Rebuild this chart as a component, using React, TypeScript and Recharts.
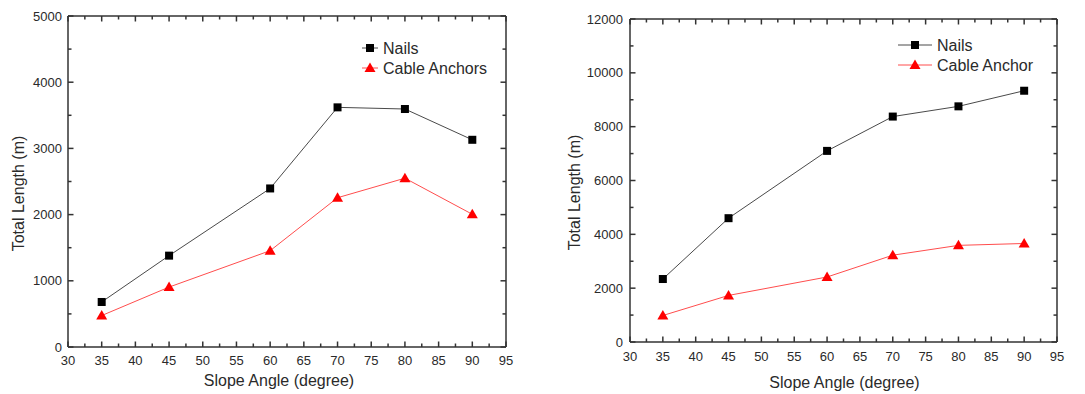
import React from 'react';
import { LineChart, Line, XAxis, YAxis, Legend } from 'recharts';

const angles = [35, 45, 60, 70, 80, 90];
const nailsLeft = [680, 1380, 2395, 3620, 3595, 3130];
const anchorsLeft = [475, 905, 1455, 2255, 2550, 2005];
const nailsRight = [2340, 4600, 7100, 8375, 8755, 9335];
const anchorsRight = [985, 1730, 2415, 3225, 3590, 3660];

const xMajor = [30, 35, 40, 45, 50, 55, 60, 65, 70, 75, 80, 85, 90, 95];
const leftYMajor = [0, 1000, 2000, 3000, 4000, 5000];
const rightYMajor = [0, 2000, 4000, 6000, 8000, 10000, 12000];

const FONT = '"Liberation Sans", Arial, sans-serif';
const AXIS = '#333';
const TEXT = '#2a2a2a';
const NAIL_LINE = '#4a4a4a';
const ANCHOR_LINE = '#ff4d4d';
const ANCHOR_FILL = '#ff0000';

// majors plus the halfway minor ticks
const withMinors = (majors: number[]) => {
  const out: number[] = [];
  majors.forEach((m, i) => {
    out.push(m);
    if (i < majors.length - 1) out.push((m + majors[i + 1]) / 2);
  });
  return out;
};

// inward tick marks (long for majors, short for minors) plus labels on bottom/left
const makeTick =
  (side: 'bottom' | 'top' | 'left' | 'right', majors: number[], gap = 0) =>
  (props: any) => {
    const { x, y, payload, index } = props;
    const v = payload.value;
    const major = majors.includes(v);
    const len = major ? 5.5 : 3.5;
    let x2 = Number(x);
    let y2 = Number(y);
    if (side === 'bottom') y2 -= len;
    else if (side === 'top') y2 += len;
    else if (side === 'left') x2 += len;
    else x2 -= len;
    let label = null;
    if (major && side === 'bottom') {
      label = (
        <text x={x} y={y + gap} dy="0.35em" textAnchor="middle" fill={TEXT} fontSize={13} fontFamily={FONT}>
          {v}
        </text>
      );
    } else if (major && side === 'left') {
      label = (
        <text x={x - gap} y={y} dy="0.35em" textAnchor="end" fill={TEXT} fontSize={13} fontFamily={FONT}>
          {v}
        </text>
      );
    }
    return (
      <g key={`${side}-${index}`}>
        <line x1={x} y1={y} x2={x2} y2={y2} stroke={AXIS} strokeWidth={1.5} />
        {label}
      </g>
    );
  };

const YTitle = (props: any) => {
  const { viewBox, text, dx, dy } = props;
  const cx = viewBox.x + dx;
  const cy = viewBox.y + viewBox.height / 2 + dy;
  return (
    <text
      x={cx}
      y={cy}
      transform={`rotate(-90 ${cx} ${cy})`}
      textAnchor="middle"
      dominantBaseline="central"
      fill={TEXT}
      fontSize={16}
      fontFamily={FONT}
    >
      {text}
    </text>
  );
};

const XTitle = (props: any) => {
  const { viewBox, text, dx, dy } = props;
  const cx = viewBox.x + viewBox.width / 2 + dx;
  const cy = viewBox.y + dy;
  return (
    <text x={cx} y={cy} textAnchor="middle" dominantBaseline="central" fill={TEXT} fontSize={16} fontFamily={FONT}>
      {text}
    </text>
  );
};

const Square = (props: any) => {
  const { cx, cy, index } = props;
  return <rect key={`sq-${index}`} x={cx - 4} y={cy - 4} width={8} height={8} fill="#000" />;
};

const Triangle = (props: any) => {
  const { cx, cy, index } = props;
  return (
    <polygon
      key={`tri-${index}`}
      points={`${cx},${cy - 5.5} ${cx + 5.5},${cy + 4} ${cx - 5.5},${cy + 4}`}
      fill={ANCHOR_FILL}
    />
  );
};

const LegendBox = ({ names, lineLen }: { names: string[]; lineLen: number }) => {
  const mid = lineLen / 2;
  return (
    <svg width={180} height={44} style={{ display: 'block', overflow: 'visible' }}>
      <g>
        <line x1={0} y1={10} x2={lineLen} y2={10} stroke={NAIL_LINE} strokeWidth={1} />
        <rect x={mid - 4} y={6} width={8} height={8} fill="#000" />
        <text x={lineLen + 5} y={10} dy="0.35em" fontSize={16} fontFamily={FONT} fill={TEXT}>
          {names[0]}
        </text>
      </g>
      <g>
        <line x1={0} y1={30} x2={lineLen} y2={30} stroke={ANCHOR_LINE} strokeWidth={1} />
        <polygon points={`${mid},${24.5} ${mid + 5.5},${34} ${mid - 5.5},${34}`} fill={ANCHOR_FILL} />
        <text x={lineLen + 5} y={30} dy="0.35em" fontSize={16} fontFamily={FONT} fill={TEXT}>
          {names[1]}
        </text>
      </g>
    </svg>
  );
};

interface PanelProps {
  nails: number[];
  anchors: number[];
  yMajor: number[];
  names: string[];
  margin: { top: number; right: number; left: number; bottom: number };
  yWidth: number;
  xHeight: number;
  xGap: number;
  yGap: number;
  yTitle: { dx: number; dy: number };
  xTitle: { dx: number; dy: number };
  legendPos: { left: number; top: number };
  legendLine: number;
}

const Panel = (p: PanelProps) => {
  const data = angles.map((a, i) => ({ angle: a, nails: p.nails[i], anchors: p.anchors[i] }));
  const xTicks = withMinors(xMajor);
  const yTicks = withMinors(p.yMajor);
  const xDomain = [xMajor[0], xMajor[xMajor.length - 1]];
  const yDomain = [p.yMajor[0], p.yMajor[p.yMajor.length - 1]];
  const axisLine = { stroke: AXIS, strokeWidth: 1.5 };
  return (
    <LineChart width={540} height={394} data={data} margin={p.margin}>
      <XAxis
        dataKey="angle"
        type="number"
        domain={xDomain}
        ticks={xTicks}
        interval={0}
        allowDataOverflow
        height={p.xHeight}
        tickSize={0}
        tickMargin={0}
        tickLine={false}
        axisLine={axisLine}
        tick={makeTick('bottom', xMajor, p.xGap)}
        label={<XTitle text="Slope Angle (degree)" dx={p.xTitle.dx} dy={p.xTitle.dy} />}
      />
      <XAxis
        xAxisId="top"
        orientation="top"
        dataKey="angle"
        type="number"
        domain={xDomain}
        ticks={xTicks}
        interval={0}
        allowDataOverflow
        height={1}
        tickSize={0}
        tickMargin={0}
        tickLine={false}
        axisLine={axisLine}
        tick={makeTick('top', xMajor)}
      />
      <YAxis
        type="number"
        domain={yDomain}
        ticks={yTicks}
        interval={0}
        allowDataOverflow
        width={p.yWidth}
        tickSize={0}
        tickMargin={0}
        tickLine={false}
        axisLine={axisLine}
        tick={makeTick('left', p.yMajor, p.yGap)}
        label={<YTitle text="Total Length (m)" dx={p.yTitle.dx} dy={p.yTitle.dy} />}
      />
      <YAxis
        yAxisId="right"
        orientation="right"
        type="number"
        domain={yDomain}
        ticks={yTicks}
        interval={0}
        allowDataOverflow
        width={1}
        tickSize={0}
        tickMargin={0}
        tickLine={false}
        axisLine={axisLine}
        tick={makeTick('right', p.yMajor)}
      />
      <Legend
        layout="vertical"
        align="center"
        verticalAlign="middle"
        wrapperStyle={{ left: p.legendPos.left, top: p.legendPos.top, width: 180, height: 44 }}
        content={() => <LegendBox names={p.names} lineLen={p.legendLine} />}
      />
      <Line
        xAxisId="top"
        yAxisId="right"
        dataKey="nails"
        name={p.names[0]}
        stroke={NAIL_LINE}
        strokeWidth={1}
        dot={Square}
        activeDot={false}
        isAnimationActive={false}
      />
      <Line
        dataKey="anchors"
        name={p.names[1]}
        stroke={ANCHOR_LINE}
        strokeWidth={1}
        dot={Triangle}
        activeDot={false}
        isAnimationActive={false}
      />
    </LineChart>
  );
};

export default function App() {
  return (
    <div style={{ position: 'absolute', left: 0, top: 0, width: 1085, height: 394, background: '#fff' }}>
      <div style={{ position: 'absolute', left: 0, top: 0 }}>
        <Panel
          nails={nailsLeft}
          anchors={anchorsLeft}
          yMajor={leftYMajor}
          names={['Nails', 'Cable Anchors']}
          margin={{ top: 15, right: 33, left: 0, bottom: 0 }}
          yWidth={68}
          xHeight={47}
          xGap={13}
          yGap={6}
          yTitle={{ dx: 18, dy: 12 }}
          xTitle={{ dx: -8, dy: 33 }}
          legendPos={{ left: 362, top: 38 }}
          legendLine={16}
        />
      </div>
      <div style={{ position: 'absolute', left: 545, top: 0 }}>
        <Panel
          nails={nailsRight}
          anchors={anchorsRight}
          yMajor={rightYMajor}
          names={['Nails', 'Cable Anchor']}
          margin={{ top: 18, right: 27, left: 0, bottom: 0 }}
          yWidth={85}
          xHeight={52}
          xGap={14}
          yGap={7}
          yTitle={{ dx: 29, dy: 12 }}
          xTitle={{ dx: 1, dy: 40 }}
          legendPos={{ left: 353, top: 35 }}
          legendLine={34}
        />
      </div>
    </div>
  );
}
